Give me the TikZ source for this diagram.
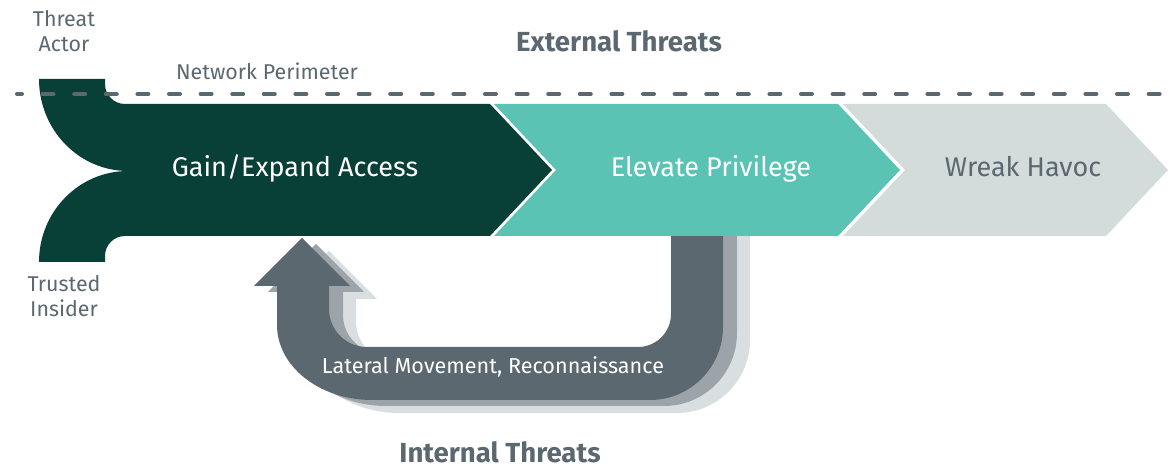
\documentclass[tikz,border=0pt]{standalone}
\usepackage{fontspec}
\setmainfont{Fira Sans}
\definecolor{slate}{HTML}{5B6870}
\definecolor{forest}{HTML}{083F36}
\definecolor{aqua}{HTML}{5BC3B4}
\definecolor{pale}{HTML}{D3DCDB}
\definecolor{shademid}{HTML}{9CA4A9}
\definecolor{shadelight}{HTML}{D9DFE0}
% outline of the lateral-movement loop arrow
\def\loopshape{(671,200) -- (671,314) arc[start angle=0,end angle=90,radius=33]
  -- (367,347) arc[start angle=90,end angle=180,radius=38]
  -- (329,286) -- (350,286) -- (302,238) -- (254,286) -- (277,286)
  -- (277,325) arc[start angle=180,end angle=90,x radius=95,y radius=75]
  -- (650,400) arc[start angle=90,end angle=0,radius=73]
  -- (723,200) -- cycle}
\begin{document}
\begin{tikzpicture}[x=0.5pt,y=-0.5pt,
  smalllbl/.style={text=slate,font=\fontsize{10.7}{12.5}\selectfont,align=center,inner sep=0,anchor=base},
  heading/.style={text=slate,font=\fontsize{13.8}{16}\selectfont\bfseries,inner sep=0,anchor=base},
  boxlbl/.style={font=\fontsize{13.5}{16}\selectfont,inner sep=0,anchor=base},
  looplbl/.style={text=white,font=\fontsize{10.8}{13}\selectfont,inner sep=0,anchor=base},
  perimline/.style={draw=slate,line width=2pt,line cap=round,dash pattern=on 5.5pt off 10.3pt,dash phase=3pt}]
\useasboundingbox (0,0) rectangle (1173,469);

% loop arrow with two offset shadow layers
\fill[shadelight,shift={(27,13)}] \loopshape;
\fill[shademid,shift={(14,6)}] \loopshape;
\fill[slate] \loopshape;

% entry funnel joined to the first stage
\fill[forest] (39,79) -- (105,79) -- (105,84) arc[start angle=180,end angle=90,radius=20]
  -- (490,104) -- (552,170) -- (490,236) -- (125,236)
  arc[start angle=270,end angle=180,radius=20] -- (105,262) -- (39,262)
  arc[start angle=180,end angle=270,x radius=89,y radius=91]
  arc[start angle=90,end angle=180,x radius=89,y radius=92] -- cycle;

% second and third stages
\fill[aqua] (494,104) -- (838,104) -- (900,170) -- (838,236) -- (494,236) -- (556,170) -- cycle;
\fill[pale] (843,104) -- (1106,104) -- (1168,170) -- (1106,236) -- (843,236) -- (905,170) -- cycle;

% network perimeter
\coordinate (perimL) at (17,94);
\coordinate (perimR) at (1173,94);
\draw[perimline] (perimL) -- (perimR);

% labels (two-line labels are placed by their last baseline)
\node[smalllbl] (actor) at (64,52) {Threat\\Actor};
\node[smalllbl] (insider) at (64,317) {Trusted\\Insider};
\node[smalllbl] (perimeter) at (267,80) {Network Perimeter};
\node[heading] (external) at (619,52) {External Threats};
\node[heading] (internal) at (500,463) {Internal Threats};
\node[boxlbl,text=white] (gain) at (295,177) {Gain/Expand Access};
\node[boxlbl,text=white] (elevate) at (711,177) {Elevate Privilege};
\node[boxlbl,text=slate] (havoc) at (1023,177) {Wreak Havoc};
\node[looplbl] (lateral) at (493,374) {Lateral Movement, Reconnaissance};
\end{tikzpicture}
\end{document}
